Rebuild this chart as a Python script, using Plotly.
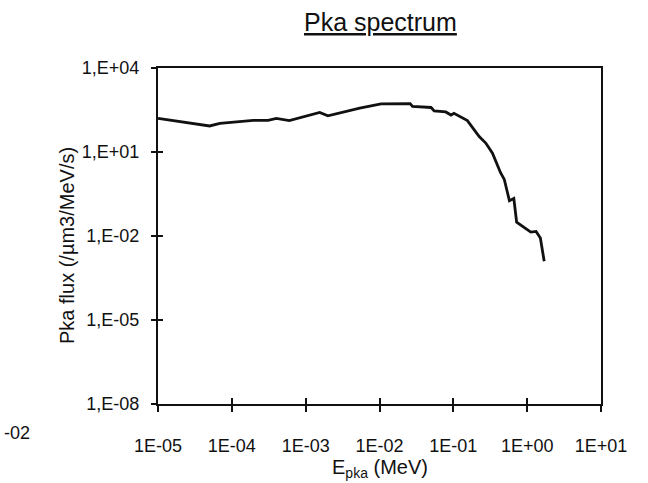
import plotly.graph_objects as go

# PKA energy (MeV) and flux (/um3/MeV/s)
energy_mev = [1.0e-5, 2.0e-5, 5.0e-5, 6.9e-5, 1.95e-4, 3.1e-4, 4.0e-4, 6.0e-4,
              1.55e-3, 2.0e-3, 5.4e-3, 1.05e-2, 2.6e-2, 2.8e-2, 5.0e-2, 5.5e-2,
              7.9e-2, 9.3e-2, 0.102, 0.155, 0.224, 0.275, 0.339, 0.436, 0.49,
              0.575, 0.66, 0.72, 0.955, 1.12, 1.32, 1.51, 1.70]
pka_flux = [158, 120, 85, 105, 135, 135, 158, 132,
            257, 195, 372, 525, 537, 427, 389, 295,
            269, 209, 240, 132, 35.5, 20.9, 9.1, 1.82, 1.05,
            0.182, 0.219, 0.031, 0.018, 0.0138, 0.0145, 0.0085, 0.00126]

x_tick_vals = [1e-5, 1e-4, 1e-3, 1e-2, 1e-1, 1e0, 1e1]
x_tick_text = ["1E-05", "1E-04", "1E-03", "1E-02", "1E-01", "1E+00", "1E+01"]
y_tick_vals = [1e-8, 1e-5, 1e-2, 1e1, 1e4]
y_tick_text = ["1,E-08", "1,E-05", "1,E-02", "1,E+01", "1,E+04"]

FONT = "Liberation Sans, Arial, sans-serif"
INK = "#111111"

fig = go.Figure()
fig.add_trace(go.Scatter(x=energy_mev, y=pka_flux, mode="lines",
                         line=dict(color=INK, width=2.8), showlegend=False,
                         hoverinfo="skip"))
# invisible trace to carry the overlay axes (inside tick halves)
fig.add_trace(go.Scatter(x=energy_mev, y=pka_flux, mode="lines",
                         line=dict(width=0), opacity=0, xaxis="x2", yaxis="y2",
                         showlegend=False, hoverinfo="skip"))

common_x = dict(type="log", range=[-5, 1], tickvals=x_tick_vals,
                showgrid=False, zeroline=False)
common_y = dict(type="log", range=[-8, 4], tickvals=y_tick_vals,
                showgrid=False, zeroline=False)

plot_w = 648 - 158 - 47
plot_h = 483 - 68 - 79

fig.update_layout(
    width=648, height=483,
    margin=dict(l=158, r=47, t=68, b=79),
    paper_bgcolor="white", plot_bgcolor="white",
    font=dict(family=FONT, color=INK),
    xaxis=dict(**common_x, ticktext=x_tick_text, ticks="outside", ticklen=6,
               tickwidth=1.5, tickcolor=INK, showline=True, linecolor=INK,
               linewidth=2, mirror=True, ticklabelstandoff=18,
               tickfont=dict(size=18, family=FONT, color=INK)),
    yaxis=dict(**common_y, ticktext=y_tick_text, ticks="outside", ticklen=5,
               tickwidth=1.5, tickcolor=INK, showline=True, linecolor=INK,
               linewidth=2, mirror=True, ticklabelstandoff=8,
               tickfont=dict(size=18, family=FONT, color=INK)),
    xaxis2=dict(**common_x, overlaying="x", anchor="y", side="bottom",
                ticks="inside", ticklen=6, tickwidth=1.5, tickcolor=INK,
                showticklabels=False, showline=False),
    yaxis2=dict(**common_y, overlaying="y", anchor="x", side="left",
                ticks="inside", ticklen=5, tickwidth=1.5, tickcolor=INK,
                showticklabels=False, showline=False),
    annotations=[
        dict(text="<u>Pka spectrum</u>", x=(380 - 158) / plot_w, y=(404 - 22) / plot_h,
             xref="paper", yref="paper", xanchor="center", yanchor="middle",
             showarrow=False, font=dict(size=25, family=FONT, color=INK)),
        dict(text="E<sub>pka</sub> (MeV)", x=0.5, y=-0.15, xref="paper", yref="paper",
             xanchor="center", yanchor="top", showarrow=False,
             font=dict(size=20, family=FONT, color=INK)),
        dict(text="Pka flux (/µm3/MeV/s)", x=(67 - 158) / plot_w, y=(404 - 246) / plot_h,
             xref="paper", yref="paper",
             xanchor="center", yanchor="middle", textangle=-90, showarrow=False,
             font=dict(size=20, family=FONT, color=INK)),
        dict(text="-02", x=(2 - 158) / plot_w, y=-0.085, xref="paper", yref="paper",
             xanchor="left", yanchor="middle", showarrow=False,
             font=dict(size=18, family=FONT, color=INK)),
    ],
)

fig.write_html("out.html")
